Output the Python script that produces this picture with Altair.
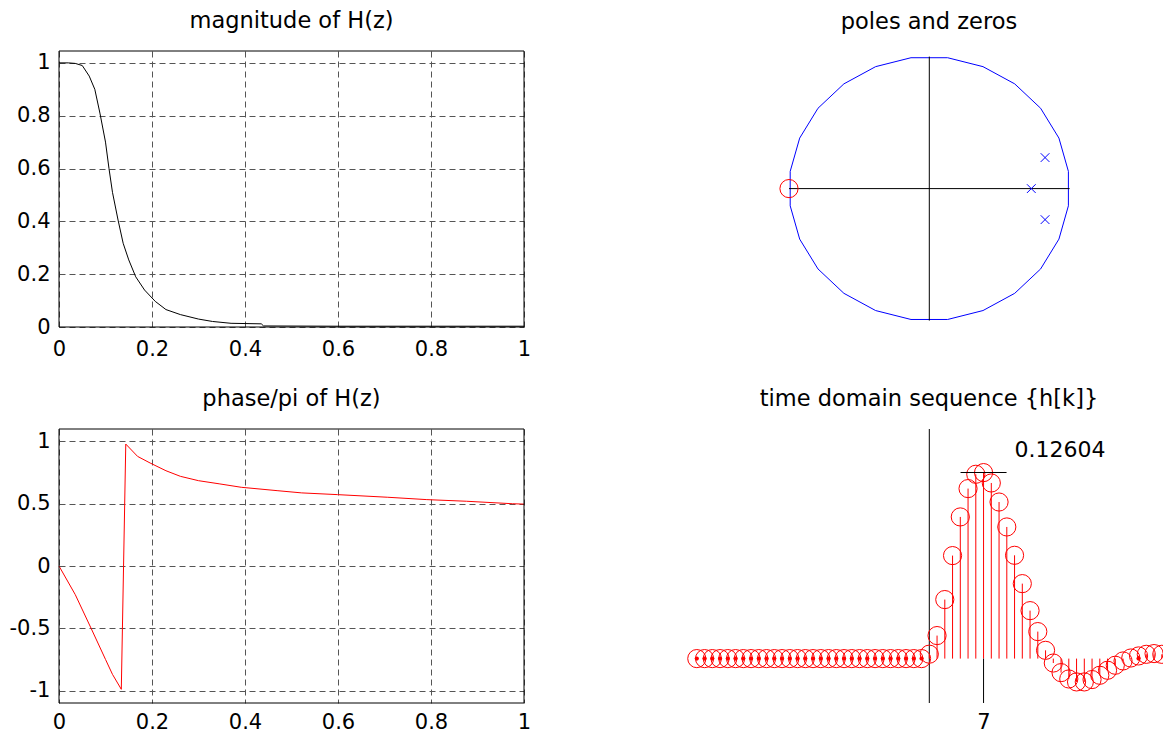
import altair as alt
import numpy as np
import pandas as pd

# ---------------- data ----------------
# magnitude of H(z) vs normalized frequency
mag_f = [0.0, 0.02, 0.035, 0.05, 0.065, 0.077, 0.088, 0.100, 0.1075, 0.115, 0.127,
         0.138, 0.150, 0.165, 0.184, 0.207, 0.230, 0.261, 0.300, 0.330, 0.370,
         0.435, 0.440, 0.600, 1.0]
mag_v = [1.0, 1.0, 0.998, 0.99, 0.95, 0.90, 0.81, 0.70, 0.60, 0.51, 0.405,
         0.317, 0.254, 0.19, 0.14, 0.097, 0.066, 0.047, 0.030, 0.021, 0.014,
         0.012, 0.004, 0.003, 0.003]

# phase/pi of H(z)
ph_f = [0.0, 0.035, 0.069, 0.100, 0.115, 0.134, 0.1436, 0.169, 0.196, 0.230,
        0.261, 0.300, 0.346, 0.392, 0.469, 0.522, 0.599, 0.707, 0.791, 0.876,
        0.975, 1.0]
ph_v = [0.0, -0.23, -0.50, -0.75, -0.87, -0.99, 0.979, 0.88, 0.827, 0.765,
        0.72, 0.685, 0.659, 0.632, 0.605, 0.587, 0.573, 0.552, 0.533, 0.52,
        0.50, 0.497]

# poles and zeros
pole_re = [0.727, 0.825, 0.825]
pole_im = [0.0, 0.235, -0.235]
zero_re = [-1.0]
zero_im = [0.0]

# time domain sequence h[k]
k_vals = list(range(-30, 31))
h_vals = [0.0] * 30 + [
    0.003, 0.0156, 0.040, 0.0698, 0.096, 0.1152, 0.1249, 0.12604, 0.119, 0.1061,
    0.0892, 0.070, 0.0508, 0.0325, 0.0183, 0.0056, -0.003, -0.0095, -0.0138,
    -0.0158, -0.0158, -0.0142, -0.0113, -0.0079, -0.0045, -0.0016, 0.0004,
    0.0018, 0.0029, 0.0034, 0.0029]
dot_k = list(range(-30, 0)) + [27]
peak_k = [7]
peak_h = [0.12604]
peak_label = ["0.12604"]

x_ticks = [0, 0.2, 0.4, 0.6, 0.8, 1]
mag_ticks = [0, 0.2, 0.4, 0.6, 0.8, 1]
ph_ticks = [-1, -0.5, 0, 0.5, 1]

# ---------------- styling ----------------
FONT = "DejaVu Sans, Verdana, sans-serif"
W_L, W_R = 465, 482
H_TOP, H_BOT = 276, 274
TICK_FS = 21
TITLE_FS = 22.5


def ttl(text, dx=0):
    return alt.Title(text, font=FONT, fontSize=TITLE_FS, fontWeight="normal",
                     color="black", baseline="alphabetic", offset=0,
                     anchor="middle", dx=dx)


def grid_axis(values, padding):
    return alt.Axis(values=values, title=None, grid=True, gridDash=[6, 4],
                    gridColor="#555555", gridWidth=1, gridOpacity=1,
                    domain=False, ticks=False, tickSize=0, labelPadding=padding,
                    labelFont=FONT, labelFontSize=TICK_FS, labelColor="black",
                    labelExpr="toString(datum.value)", labelFlush=False,
                    labelOverlap=False)


def left_panel(df, color, ydom, yticks, title, xpad, h):
    xenc = lambda f: alt.X(f, type="quantitative",
                           scale=alt.Scale(domain=[0, 1], nice=False, zero=False),
                           axis=grid_axis(x_ticks, xpad))
    yenc = lambda f: alt.Y(f, type="quantitative",
                           scale=alt.Scale(domain=ydom, nice=False, zero=False),
                           axis=grid_axis(yticks, 9))
    line = alt.Chart(df).mark_line(color=color, strokeWidth=1).encode(
        x=xenc("f"), y=yenc("v"))
    box = alt.Chart(pd.DataFrame({"a": [0]})).transform_calculate(
        x0="0", x1="1", y0=str(ydom[0]), y1=str(ydom[1])
    ).mark_rect(filled=False, color="black", strokeWidth=1).encode(
        x=xenc("x0"), x2="x1:Q", y=yenc("y0"), y2="y1:Q")
    return alt.layer(line, box).properties(width=W_L, height=h, title=ttl(title))


mag_chart = left_panel(pd.DataFrame({"f": mag_f, "v": mag_v}), "black",
                       [0, 1.045], mag_ticks, "magnitude of H(z)", 11, H_TOP)
ph_chart = left_panel(pd.DataFrame({"f": ph_f, "v": ph_v}), "#ff0000",
                      [-1.1, 1.1], ph_ticks, "phase/pi of H(z)", 8, H_BOT)

# ---------------- poles and zeros ----------------
PZ_X = [-1.7698, 1.6657]
PZ_Y = [-1.0485, 1.0424]
theta = np.deg2rad(np.arange(7.5, 368.0, 15.0))
circ_df = pd.DataFrame({"re": np.cos(theta), "im": np.sin(theta),
                        "o": np.arange(len(theta))})
axes_df = pd.DataFrame({"x": [-1.0, 0.0], "x2": [1.0, 0.0],
                        "y": [0.0, -1.0], "y2": [0.0, 1.0]})
pole_df = pd.DataFrame({"re": pole_re, "im": pole_im})
zero_df = pd.DataFrame({"re": zero_re, "im": zero_im})


def pzx(field):
    return alt.X(field, type="quantitative",
                 scale=alt.Scale(domain=PZ_X, nice=False, zero=False), axis=None)


def pzy(field):
    return alt.Y(field, type="quantitative",
                 scale=alt.Scale(domain=PZ_Y, nice=False, zero=False), axis=None)


circ = alt.Chart(circ_df).mark_line(color="#0000ff", strokeWidth=1).encode(
    x=pzx("re"), y=pzy("im"), order="o:Q")
axl = alt.Chart(axes_df).mark_rule(color="black", strokeWidth=1).encode(
    x=pzx("x"), x2="x2:Q", y=pzy("y"), y2="y2:Q")
poles = alt.Chart(pole_df).mark_point(
    shape="M-1,-1L1,1M1,-1L-1,1", size=76, color="#0000ff", filled=False,
    strokeWidth=1, opacity=1).encode(x=pzx("re"), y=pzy("im"))
zeros = alt.Chart(zero_df).mark_point(
    shape="circle", size=330, color="#ff0000", filled=False, strokeWidth=1,
    opacity=1).encode(x=pzx("re"), y=pzy("im"))
pz_chart = alt.layer(circ, axl, poles, zeros).properties(
    width=W_R, height=H_TOP, title=ttl("poles and zeros", dx=7))

# ---------------- time domain sequence ----------------
ST_X = [-32.039, 30.155]
ST_Y = [-0.030085, 0.15558]
h_df = pd.DataFrame({"k": k_vals, "h": h_vals})
dot_df = pd.DataFrame({"k": dot_k, "h": [0.0] * len(dot_k)})
peak_df = pd.DataFrame({"k": peak_k, "h": peak_h, "label": peak_label})
zero_k_df = pd.DataFrame({"k": [0]})


def stx(field="k"):
    return alt.X(field, type="quantitative",
                 scale=alt.Scale(domain=ST_X, nice=False, zero=False),
                 axis=alt.Axis(values=peak_k, title=None, grid=False, domain=False,
                               ticks=False, tickSize=0, labelPadding=8,
                               labelFont=FONT, labelFontSize=TICK_FS,
                               labelColor="black", labelFlush=False,
                               labelExpr="toString(datum.value)"))


def sty(field="h"):
    return alt.Y(field, type="quantitative",
                 scale=alt.Scale(domain=ST_Y, nice=False, zero=False), axis=None)


vline = alt.Chart(zero_k_df).mark_rule(color="black", strokeWidth=1).encode(x=stx())
stems = alt.Chart(h_df).transform_calculate(base="0").mark_rule(
    color="#ff0000", strokeWidth=1).encode(x=stx(), y=sty("base"), y2="h:Q")
markers = alt.Chart(h_df).mark_point(
    shape="circle", size=330, color="#ff0000", filled=False, strokeWidth=1,
    opacity=1, clip=True).encode(x=stx(), y=sty())
dots = alt.Chart(dot_df).mark_point(
    shape="circle", size=18, color="#ff0000", filled=True, opacity=1).encode(
    x=stx(), y=sty())
peak_tick = alt.Chart(peak_df).mark_tick(
    orient="horizontal", size=46, thickness=1, color="black", opacity=1).encode(
    x=stx(), y=sty())
k_tick = alt.Chart(peak_df).transform_calculate(
    b0="0", b1=str(ST_Y[0])).mark_rule(color="black", strokeWidth=1).encode(
    x=stx(), y=sty("b0"), y2="b1:Q")
peak_text = alt.Chart(peak_df).mark_text(
    align="left", baseline="alphabetic", dx=31, dy=-15.6, font=FONT,
    fontSize=22, color="black").encode(x=stx(), y=sty(), text="label:N")
stem_chart = alt.layer(vline, stems, markers, dots, peak_tick, k_tick, peak_text).properties(
    width=W_R, height=H_BOT, title=ttl("time domain sequence {h[k]}", dx=7))

chart = alt.concat(
    mag_chart, pz_chart, ph_chart, stem_chart,
    columns=2, spacing={"row": 102, "column": 157}, bounds="flush",
).properties(
    padding={"left": 0, "top": 1, "right": 0, "bottom": 0},
    background="white",
).configure_view(stroke="transparent")

chart.save("out.html", embed_options={"renderer": "svg", "actions": False})
